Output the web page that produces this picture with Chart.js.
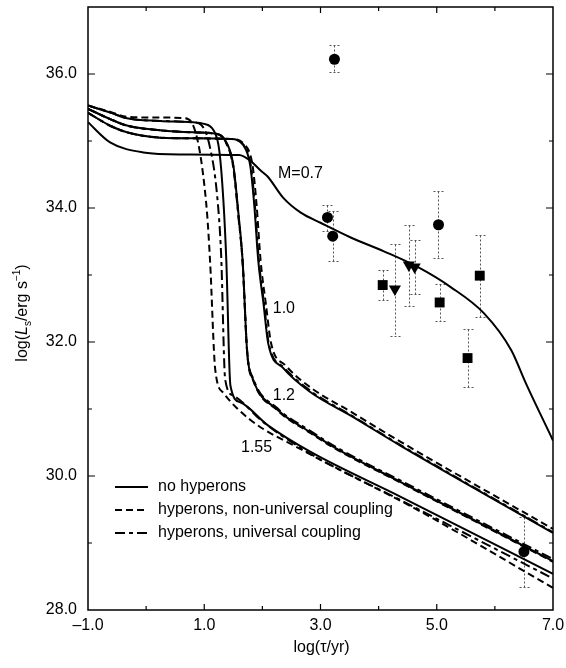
<!DOCTYPE html>
<html>
<head>
<meta charset="utf-8">
<title>Neutron star cooling curves</title>
<script src="https://cdn.jsdelivr.net/npm/chart.js@4.4.0/dist/chart.umd.min.js"></script>
<style>
    html, body { margin: 0; padding: 0; background: #fff; }
    #wrap { width: 566px; height: 668px; }
</style>
</head>
<body>
<div id="wrap"><canvas id="coolChart" width="566" height="668"></canvas></div>
<script>
"use strict";

/*---------------------------------------------------
  Data : [log(age/yr), log(Ls/erg s-1)]
---------------------------------------------------*/

var m07NoHyp = [[-1.0,35.28],[-0.62,34.98],[-0.05,34.83],[0.6,34.80],[1.6,34.79],[1.8,34.70],[1.97,34.56],[2.09,34.47],[2.36,34.15],[2.66,33.93],[3.0,33.78],[3.52,33.56],[4.1,33.35],[4.67,33.12],[5.24,32.82],[5.81,32.43],[6.28,31.88],[6.53,31.39],[7.0,30.53]];

var m10NoHyp = [[-1.0,35.42],[-0.6,35.22],[-0.33,35.13],[0.24,35.05],[0.81,35.04],[1.45,35.03],[1.67,34.94],[1.79,34.64],[1.86,34.05],[1.93,33.21],[2.02,32.57],[2.1,31.98],[2.36,31.61],[2.83,31.25],[3.52,30.90],[4.38,30.45],[7.0,29.15]];
var m10NonUni = [[-1.0,35.42],[-0.6,35.22],[-0.33,35.13],[0.24,35.05],[0.81,35.04],[1.45,35.03],[1.7,34.94],[1.83,34.64],[1.9,34.05],[1.97,33.21],[2.06,32.57],[2.15,31.98],[2.4,31.65],[2.83,31.32],[3.52,30.96],[4.38,30.51],[7.0,29.21]];
var m10Uni = [[-1.0,35.42],[-0.6,35.22],[-0.33,35.13],[0.24,35.05],[0.81,35.04],[1.45,35.03],[1.68,34.94],[1.8,34.64],[1.87,34.05],[1.94,33.21],[2.03,32.57],[2.11,31.98],[2.37,31.62],[2.83,31.27],[3.52,30.91],[4.38,30.46],[7.0,29.16]];

var m12NoHyp = [[-1.0,35.48],[-0.6,35.32],[-0.33,35.23],[0.24,35.16],[0.81,35.13],[1.19,35.11],[1.36,35.01],[1.5,34.64],[1.59,33.9],[1.66,33.21],[1.74,31.83],[1.84,31.44],[2.26,30.99],[2.83,30.65],[3.29,30.40],[4.38,29.91],[7.0,28.73]];
var m12NonUni = [[-1.0,35.48],[-0.6,35.32],[-0.33,35.23],[0.24,35.16],[0.81,35.13],[1.19,35.11],[1.36,35.0],[1.5,34.62],[1.59,33.88],[1.66,33.2],[1.74,31.82],[1.84,31.43],[2.26,30.98],[2.83,30.64],[3.29,30.39],[4.38,29.90],[7.0,28.72]];
var m12Uni = [[-1.0,35.48],[-0.6,35.32],[-0.33,35.23],[0.24,35.16],[0.81,35.13],[1.19,35.11],[1.36,35.0],[1.5,34.6],[1.59,33.85],[1.66,33.2],[1.74,31.85],[1.84,31.46],[2.26,31.01],[2.83,30.67],[3.29,30.42],[4.38,29.93],[7.0,28.76]];

var m155NoHyp = [[-1.0,35.53],[-0.6,35.42],[-0.33,35.34],[0.24,35.30],[0.81,35.28],[0.98,35.26],[1.16,35.16],[1.26,34.85],[1.33,34.1],[1.38,33.21],[1.45,31.35],[1.62,31.10],[2.09,30.76],[2.83,30.36],[4.38,29.69],[7.0,28.54]];
var m155NonUni = [[-1.0,35.53],[-0.6,35.43],[-0.33,35.36],[0.24,35.35],[0.67,35.34],[0.8,35.25],[0.9,34.95],[0.98,34.5],[1.05,33.9],[1.10,33.21],[1.19,31.58],[1.33,31.24],[1.79,30.84],[2.66,30.40],[4.72,29.47],[7.0,28.33]];
var m155Uni = [[-1.0,35.53],[-0.6,35.42],[-0.33,35.34],[0.24,35.30],[0.81,35.28],[0.95,35.24],[1.10,34.9],[1.22,34.2],[1.29,33.31],[1.36,31.44],[1.5,31.2],[2.02,30.8],[2.83,30.33],[4.4,29.63],[7.0,28.47]];

// observed pulsars, grouped by marker
var circX  = [3.12, 3.21, 3.24, 5.03, 6.50];
var circY  = [33.86, 33.58, 36.22, 33.75, 28.87];
var circLo = [33.65, 33.21, 36.03, 33.25, 28.35];
var circHi = [34.05, 33.95, 36.43, 34.26, 29.39];

var sqX  = [4.07, 5.05, 5.74, 5.53];
var sqY  = [32.85, 32.59, 32.99, 31.76];
var sqLo = [32.63, 32.31, 32.38, 31.33];
var sqHi = [33.08, 32.87, 33.59, 32.19];

var triX  = [4.28, 4.52, 4.62];
var triY  = [32.79, 33.15, 33.12];
var triLo = [32.09, 32.53, 32.71];
var triHi = [33.47, 33.74, 33.52];

var massLabels = ["M=0.7", "1.0", "1.2", "1.55"];
var legendLabels = ["no hyperons", "hyperons, non-universal coupling", "hyperons, universal coupling"];
var xLabelTicks = [-1, 1, 3, 5, 7];
var yLabelTicks = [28, 30, 32, 34, 36];

/*---------------------------------------------------
  Helpers
---------------------------------------------------*/

var plotFont = '"Liberation Sans", Arial, Helvetica, sans-serif';
var dashNonUni = [7, 4];
var dashUni = [10, 4, 4, 4];

function toPoints(arr) {
    return arr.map(function (p) { return { x: p[0], y: p[1] }; });
}

function zipPoints(xs, ys) {
    return xs.map(function (x, i) { return { x: x, y: ys[i] }; });
}

function curve(data, dash) {
    return {
        data: toPoints(data),
        showLine: true,
        borderColor: '#000',
        borderWidth: 2,
        borderDash: dash || [],
        pointRadius: 0,
        pointHoverRadius: 0,
        fill: false,
        cubicInterpolationMode: 'monotone'
    };
}

function markers(xs, ys, style, radius, rotation) {
    return {
        data: zipPoints(xs, ys),
        showLine: false,
        pointStyle: style,
        pointRadius: radius,
        pointRotation: rotation || 0,
        backgroundColor: '#000',
        borderColor: '#000',
        borderWidth: 0
    };
}

function fmt(v) {
    return (v < 0 ? '\u2013' : '') + Math.abs(v).toFixed(1);
}

// no extra room for overhanging tick labels, the frame sits at fixed edges
function noOverhang(scale) {
    scale.paddingTop = 0;
    scale.paddingBottom = 0;
    scale.paddingLeft = 0;
    scale.paddingRight = 0;
}

/*---------------------------------------------------
  Error bars (dotted, drawn under the markers)
---------------------------------------------------*/

var errorBars = {
    id: 'errorBars',
    beforeDatasetsDraw: function (chart) {
        var ctx = chart.ctx, xs = chart.scales.x, ys = chart.scales.y;
        ctx.save();
        ctx.strokeStyle = '#555';
        ctx.lineWidth = 1;
        ctx.setLineDash([2, 2]);
        [[circX, circLo, circHi], [sqX, sqLo, sqHi], [triX, triLo, triHi]].forEach(function (set) {
            set[0].forEach(function (x, i) {
                var px = Math.round(xs.getPixelForValue(x)) + 0.5;
                var top = Math.round(ys.getPixelForValue(set[2][i])) + 0.5;
                var bot = Math.round(ys.getPixelForValue(set[1][i])) + 0.5;
                ctx.beginPath();
                ctx.moveTo(px, top); ctx.lineTo(px, bot);
                ctx.moveTo(px - 5, top); ctx.lineTo(px + 5, top);
                ctx.moveTo(px - 5, bot); ctx.lineTo(px + 5, bot);
                ctx.stroke();
            });
        });
        ctx.restore();
    }
};

/*---------------------------------------------------
  Frame, inward ticks, titles, labels, legend
---------------------------------------------------*/

var decorations = {
    id: 'decorations',
    afterDraw: function (chart) {
        var ctx = chart.ctx, a = chart.chartArea;
        var xs = chart.scales.x, ys = chart.scales.y;
        ctx.save();

        // frame
        ctx.strokeStyle = '#000';
        ctx.lineWidth = 1.5;
        ctx.setLineDash([]);
        ctx.strokeRect(a.left, a.top, a.right - a.left, a.bottom - a.top);

        // ticks on all four sides
        ctx.lineWidth = 1.2;
        ctx.beginPath();
        xs.ticks.forEach(function (t) {
            var px = xs.getPixelForValue(t.value);
            var len = xLabelTicks.indexOf(t.value) >= 0 ? 6 : 4;
            if (px <= a.left + 1 || px >= a.right - 1) return;
            ctx.moveTo(px, a.bottom); ctx.lineTo(px, a.bottom - len);
            ctx.moveTo(px, a.top); ctx.lineTo(px, a.top + len);
        });
        ys.ticks.forEach(function (t) {
            var py = ys.getPixelForValue(t.value);
            var len = yLabelTicks.indexOf(t.value) >= 0 ? 7 : 4;
            if (py >= a.bottom - 1 || py <= a.top + 1) return;
            ctx.moveTo(a.left, py); ctx.lineTo(a.left + len, py);
            ctx.moveTo(a.right, py); ctx.lineTo(a.right - len, py);
        });
        ctx.stroke();

        ctx.fillStyle = '#000';

        // x title
        ctx.font = '16px ' + plotFont;
        ctx.textAlign = 'center';
        ctx.textBaseline = 'middle';
        ctx.fillText('log(\u03c4/yr)', (a.left + a.right) / 2 + 1, 648);

        // y title with italic L, subscript and superscript
        var parts = [
            { t: 'log(', f: '16px ' + plotFont, dy: 0 },
            { t: 'L', f: 'italic 16px ' + plotFont, dy: 0 },
            { t: 's', f: '10px ' + plotFont, dy: 4 },
            { t: '/erg s', f: '16px ' + plotFont, dy: 0 },
            { t: '\u22121', f: '10px ' + plotFont, dy: -7 },
            { t: ')', f: '16px ' + plotFont, dy: 0 }
        ];
        var total = 0;
        parts.forEach(function (p) { ctx.font = p.f; p.w = ctx.measureText(p.t).width; total += p.w; });
        ctx.translate(27, 313);
        ctx.rotate(-Math.PI / 2);
        ctx.textAlign = 'left';
        ctx.textBaseline = 'alphabetic';
        var u = -total / 2;
        parts.forEach(function (p) {
            ctx.font = p.f;
            ctx.fillText(p.t, u, p.dy);
            u += p.w;
        });
        ctx.setTransform(1, 0, 0, 1, 0, 0);

        // mass labels next to the curves
        var spots = [[2.655, 34.51], [2.37, 32.50], [2.37, 31.20], [1.90, 30.43]];
        ctx.font = '16px ' + plotFont;
        ctx.textAlign = 'center';
        ctx.textBaseline = 'middle';
        massLabels.forEach(function (txt, i) {
            ctx.fillText(txt, xs.getPixelForValue(spots[i][0]), ys.getPixelForValue(spots[i][1]));
        });

        // legend
        var dashes = [[], dashNonUni, dashUni];
        ctx.textAlign = 'left';
        ctx.lineWidth = 2;
        legendLabels.forEach(function (txt, i) {
            var y = 487 + i * 23;
            ctx.setLineDash(dashes[i]);
            ctx.beginPath();
            ctx.moveTo(115, y);
            ctx.lineTo(148, y);
            ctx.stroke();
            ctx.fillText(txt, 158, y);
        });

        ctx.restore();
    }
};

/*---------------------------------------------------
  Chart
---------------------------------------------------*/

var ctx = document.getElementById('coolChart');

var coolChart = new Chart(ctx, {
    type: 'scatter',
    data: {
        datasets: [
            markers(circX, circY, 'circle', 5.5),
            markers(sqX, sqY, 'rect', 7),
            markers(triX, triY, 'triangle', 7, 180),
            curve(m07NoHyp),
            curve(m10NoHyp),
            curve(m12NoHyp),
            curve(m155NoHyp),
            curve(m10Uni, dashUni),
            curve(m12Uni, dashUni),
            curve(m155Uni, dashUni),
            curve(m10NonUni, dashNonUni),
            curve(m12NonUni, dashNonUni),
            curve(m155NonUni, dashNonUni)
        ]
    },
    options: {
        responsive: false,
        animation: false,
        devicePixelRatio: 1,
        events: [],
        layout: { padding: { top: 1, right: 13, left: 0, bottom: 0 } },
        plugins: {
            legend: { display: false },
            tooltip: { enabled: false }
        },
        scales: {
            x: {
                type: 'linear',
                position: 'bottom',
                min: -1,
                max: 7,
                grid: { display: false, drawTicks: false },
                border: { display: false },
                ticks: {
                    stepSize: 1,
                    autoSkip: false,
                    maxRotation: 0,
                    padding: 6,
                    color: '#000',
                    font: { family: plotFont, size: 16 },
                    callback: function (v) { return xLabelTicks.indexOf(v) >= 0 ? fmt(v) : ''; }
                },
                afterFit: function (scale) { scale.height = 58; noOverhang(scale); }
            },
            y: {
                type: 'linear',
                position: 'left',
                min: 28,
                max: 37,
                grid: { display: false, drawTicks: false },
                border: { display: false },
                ticks: {
                    stepSize: 1,
                    autoSkip: false,
                    padding: 11,
                    color: '#000',
                    font: { family: plotFont, size: 16 },
                    callback: function (v) { return yLabelTicks.indexOf(v) >= 0 ? fmt(v) : ''; }
                },
                afterFit: function (scale) { scale.width = 88; noOverhang(scale); }
            }
        }
    },
    plugins: [errorBars, decorations]
});
</script>
</body>
</html>
